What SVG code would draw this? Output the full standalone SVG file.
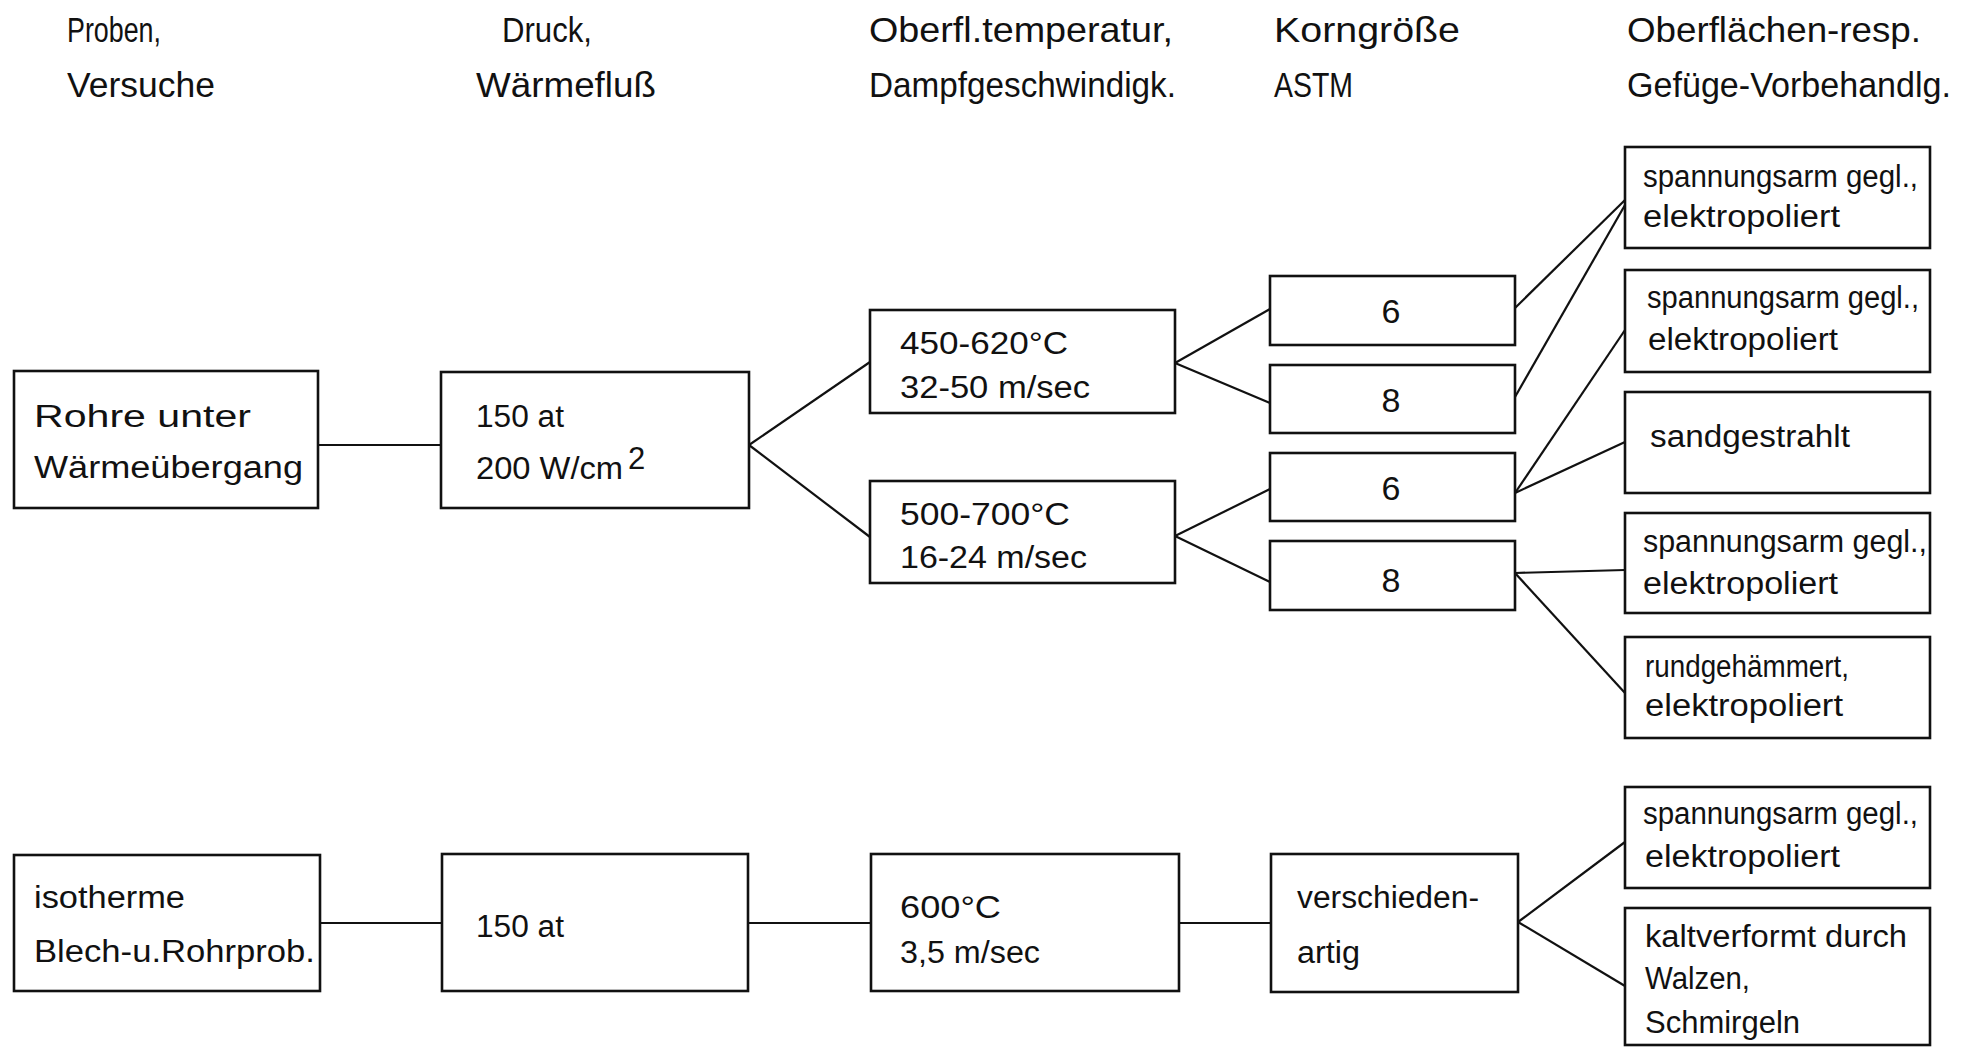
<svg xmlns="http://www.w3.org/2000/svg" width="1974" height="1056" viewBox="0 0 1974 1056">
<style>
  .box { fill: #ffffff; stroke: #111111; stroke-width: 2.6; }
  .conn line { stroke: #111111; stroke-width: 2.2; }
  text { font-family: "Liberation Sans", "DejaVu Sans", sans-serif; fill: #111111; }
  .hd { font-size: 35px; }
  .t { font-size: 31px; }
  .d { font-size: 34px; }
</style>
<rect x="0" y="0" width="1974" height="1056" fill="#ffffff"/>

<g id="headers">
  <text class="hd" x="67" y="42" textLength="94" lengthAdjust="spacingAndGlyphs">Proben,</text>
  <text class="hd" x="67" y="97" textLength="148" lengthAdjust="spacingAndGlyphs">Versuche</text>
  <text class="hd" x="502" y="42" textLength="90" lengthAdjust="spacingAndGlyphs">Druck,</text>
  <text class="hd" x="476" y="97" textLength="180" lengthAdjust="spacingAndGlyphs">Wärmefluß</text>
  <text class="hd" x="869" y="42" textLength="304" lengthAdjust="spacingAndGlyphs">Oberfl.temperatur,</text>
  <text class="hd" x="869" y="97" textLength="307" lengthAdjust="spacingAndGlyphs">Dampfgeschwindigk.</text>
  <text class="hd" x="1274" y="42" textLength="186" lengthAdjust="spacingAndGlyphs">Korngröße</text>
  <text class="hd" x="1274" y="97" textLength="79" lengthAdjust="spacingAndGlyphs">ASTM</text>
  <text class="hd" x="1627" y="42" textLength="294" lengthAdjust="spacingAndGlyphs">Oberflächen-resp.</text>
  <text class="hd" x="1627" y="97" textLength="324" lengthAdjust="spacingAndGlyphs">Gefüge-Vorbehandlg.</text>
</g>

<g id="connectors" class="conn">
  <line x1="318" y1="445" x2="441" y2="445"/>
  <line x1="749" y1="445" x2="870" y2="362"/>
  <line x1="749" y1="445" x2="870" y2="537"/>
  <line x1="1175" y1="363" x2="1270" y2="309"/>
  <line x1="1175" y1="363" x2="1270" y2="403"/>
  <line x1="1175" y1="536" x2="1270" y2="489"/>
  <line x1="1175" y1="536" x2="1270" y2="582"/>
  <line x1="1515" y1="308" x2="1625" y2="200"/>
  <line x1="1515" y1="397" x2="1625" y2="205"/>
  <line x1="1515" y1="493" x2="1625" y2="330"/>
  <line x1="1515" y1="493" x2="1625" y2="442"/>
  <line x1="1515" y1="573" x2="1625" y2="570"/>
  <line x1="1515" y1="573" x2="1625" y2="693"/>
  <line x1="320" y1="923" x2="442" y2="923"/>
  <line x1="748" y1="923" x2="871" y2="923"/>
  <line x1="1179" y1="923" x2="1271" y2="923"/>
  <line x1="1518" y1="922" x2="1625" y2="842"/>
  <line x1="1518" y1="922" x2="1625" y2="986"/>
</g>

<g id="node-rohre">
  <rect class="box" x="14" y="371" width="304" height="137"/>
  <text class="t" x="34" y="427" textLength="217" lengthAdjust="spacingAndGlyphs">Rohre unter</text>
  <text class="t" x="34" y="478" textLength="269" lengthAdjust="spacingAndGlyphs">Wärmeübergang</text>
</g>
<g id="node-druck1">
  <rect class="box" x="441" y="372" width="308" height="136"/>
  <text class="t" x="476" y="427" textLength="88" lengthAdjust="spacingAndGlyphs">150 at</text>
  <text class="t" x="476" y="479" textLength="147" lengthAdjust="spacingAndGlyphs">200 W/cm</text>
  <text class="t" x="628" y="469">2</text>
</g>
<g id="node-temp1">
  <rect class="box" x="870" y="310" width="305" height="103"/>
  <text class="t" x="900" y="354" textLength="168" lengthAdjust="spacingAndGlyphs">450-620°C</text>
  <text class="t" x="900" y="398" textLength="190" lengthAdjust="spacingAndGlyphs">32-50 m/sec</text>
</g>
<g id="node-temp2">
  <rect class="box" x="870" y="481" width="305" height="102"/>
  <text class="t" x="900" y="525" textLength="170" lengthAdjust="spacingAndGlyphs">500-700°C</text>
  <text class="t" x="900" y="568" textLength="187" lengthAdjust="spacingAndGlyphs">16-24 m/sec</text>
</g>
<g id="node-k1">
  <rect class="box" x="1270" y="276" width="245" height="69"/>
  <text class="d" x="1391" y="323" text-anchor="middle">6</text>
</g>
<g id="node-k2">
  <rect class="box" x="1270" y="365" width="245" height="68"/>
  <text class="d" x="1391" y="412" text-anchor="middle">8</text>
</g>
<g id="node-k3">
  <rect class="box" x="1270" y="453" width="245" height="68"/>
  <text class="d" x="1391" y="500" text-anchor="middle">6</text>
</g>
<g id="node-k4">
  <rect class="box" x="1270" y="541" width="245" height="69"/>
  <text class="d" x="1391" y="592" text-anchor="middle">8</text>
</g>
<g id="node-f1">
  <rect class="box" x="1625" y="147" width="305" height="101"/>
  <text class="t" x="1643" y="187" textLength="275" lengthAdjust="spacingAndGlyphs">spannungsarm gegl.,</text>
  <text class="t" x="1643" y="227" textLength="197" lengthAdjust="spacingAndGlyphs">elektropoliert</text>
</g>
<g id="node-f2">
  <rect class="box" x="1625" y="270" width="305" height="102"/>
  <text class="t" x="1647" y="308" textLength="272" lengthAdjust="spacingAndGlyphs">spannungsarm gegl.,</text>
  <text class="t" x="1648" y="350" textLength="190" lengthAdjust="spacingAndGlyphs">elektropoliert</text>
</g>
<g id="node-f3">
  <rect class="box" x="1625" y="392" width="305" height="101"/>
  <text class="t" x="1650" y="447" textLength="200" lengthAdjust="spacingAndGlyphs">sandgestrahlt</text>
</g>
<g id="node-f4">
  <rect class="box" x="1625" y="513" width="305" height="100"/>
  <text class="t" x="1643" y="552" textLength="284" lengthAdjust="spacingAndGlyphs">spannungsarm gegl.,</text>
  <text class="t" x="1643" y="594" textLength="195" lengthAdjust="spacingAndGlyphs">elektropoliert</text>
</g>
<g id="node-f5">
  <rect class="box" x="1625" y="637" width="305" height="101"/>
  <text class="t" x="1645" y="677" textLength="204" lengthAdjust="spacingAndGlyphs">rundgehämmert,</text>
  <text class="t" x="1645" y="716" textLength="198" lengthAdjust="spacingAndGlyphs">elektropoliert</text>
</g>
<g id="node-iso">
  <rect class="box" x="14" y="855" width="306" height="136"/>
  <text class="t" x="34" y="908" textLength="151" lengthAdjust="spacingAndGlyphs">isotherme</text>
  <text class="t" x="34" y="962" textLength="281" lengthAdjust="spacingAndGlyphs">Blech-u.Rohrprob.</text>
</g>
<g id="node-druck2">
  <rect class="box" x="442" y="854" width="306" height="137"/>
  <text class="t" x="476" y="937" textLength="88" lengthAdjust="spacingAndGlyphs">150 at</text>
</g>
<g id="node-temp3">
  <rect class="box" x="871" y="854" width="308" height="137"/>
  <text class="t" x="900" y="918" textLength="101" lengthAdjust="spacingAndGlyphs">600°C</text>
  <text class="t" x="900" y="963" textLength="140" lengthAdjust="spacingAndGlyphs">3,5 m/sec</text>
</g>
<g id="node-korn-v">
  <rect class="box" x="1271" y="854" width="247" height="138"/>
  <text class="t" x="1297" y="908" textLength="182" lengthAdjust="spacingAndGlyphs">verschieden-</text>
  <text class="t" x="1297" y="963" textLength="63" lengthAdjust="spacingAndGlyphs">artig</text>
</g>
<g id="node-f6">
  <rect class="box" x="1625" y="787" width="305" height="101"/>
  <text class="t" x="1643" y="824" textLength="275" lengthAdjust="spacingAndGlyphs">spannungsarm gegl.,</text>
  <text class="t" x="1645" y="867" textLength="195" lengthAdjust="spacingAndGlyphs">elektropoliert</text>
</g>
<g id="node-f7">
  <rect class="box" x="1625" y="908" width="305" height="137"/>
  <text class="t" x="1645" y="947" textLength="262" lengthAdjust="spacingAndGlyphs">kaltverformt durch</text>
  <text class="t" x="1645" y="989" textLength="105" lengthAdjust="spacingAndGlyphs">Walzen,</text>
  <text class="t" x="1645" y="1033" textLength="155" lengthAdjust="spacingAndGlyphs">Schmirgeln</text>
</g>
</svg>
